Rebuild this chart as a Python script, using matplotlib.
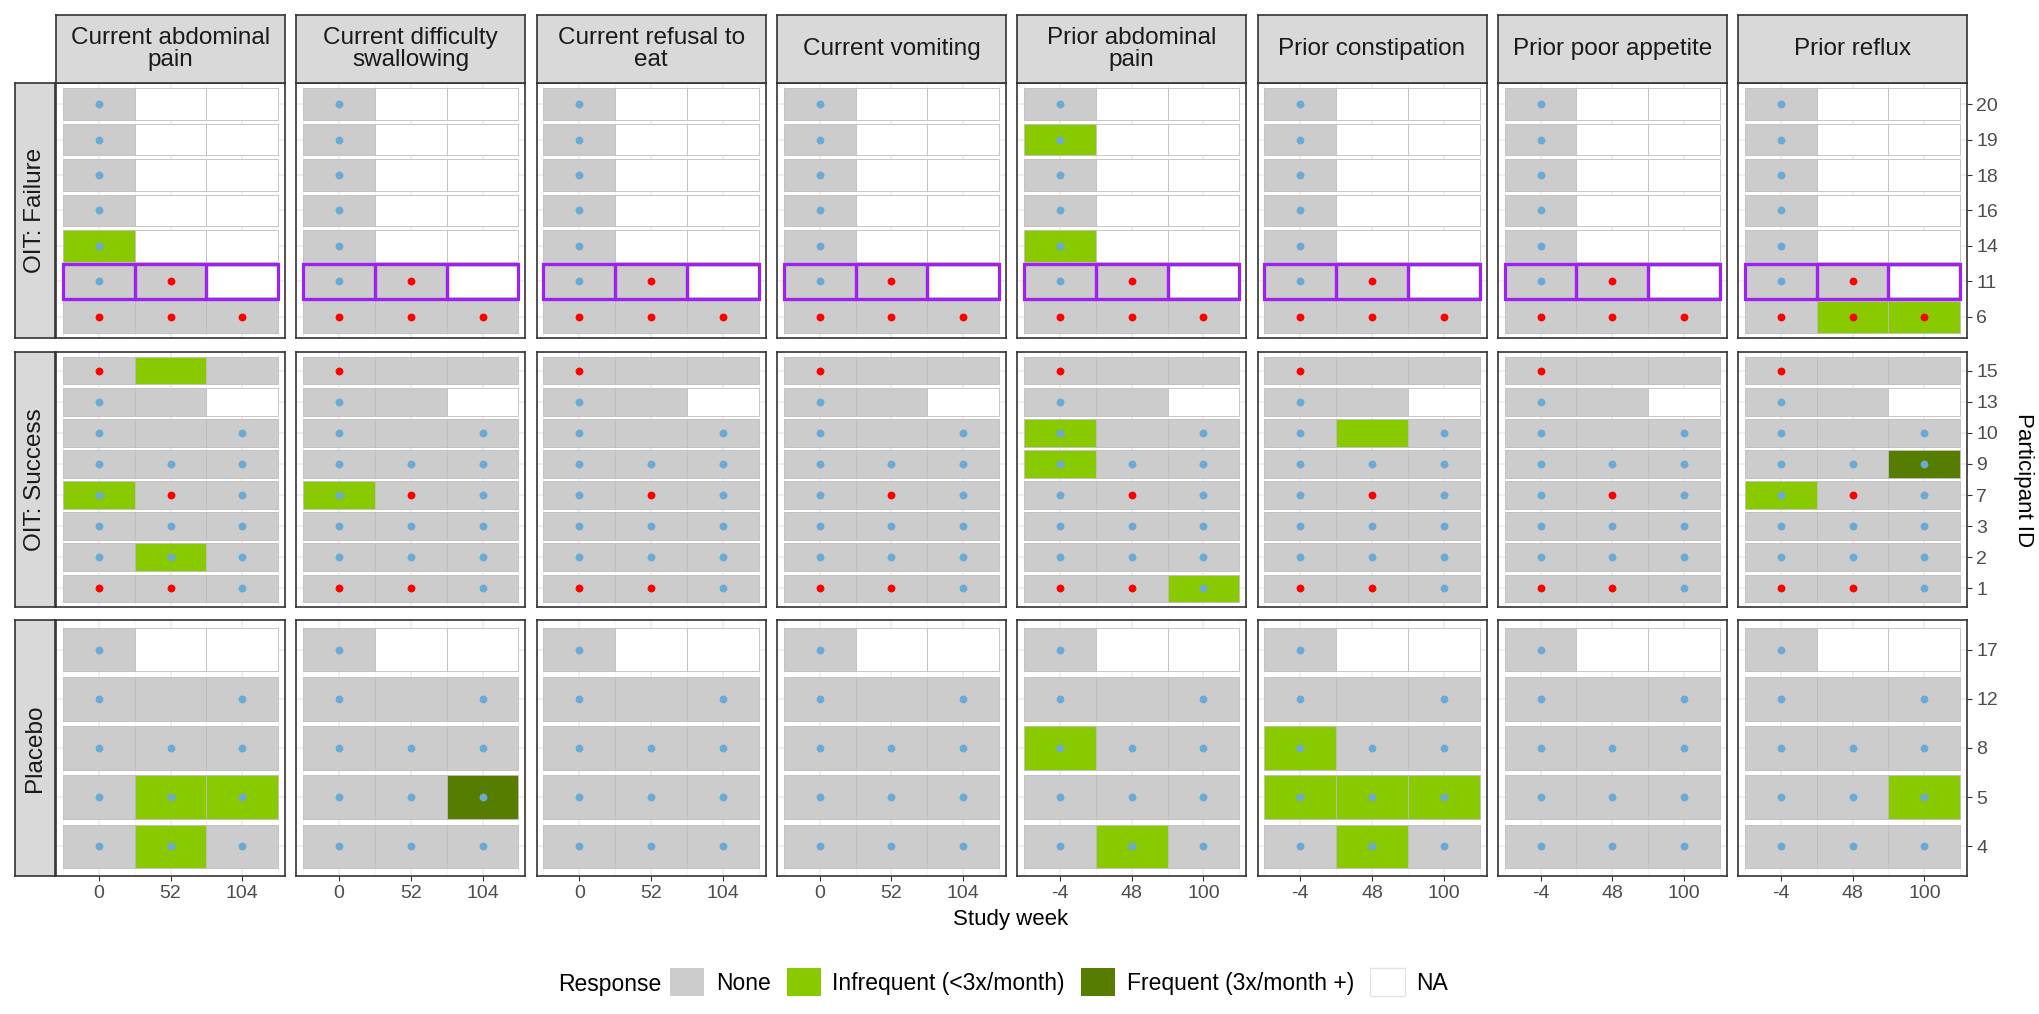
import matplotlib
matplotlib.use('Agg')
import matplotlib.pyplot as plt
from matplotlib.patches import Rectangle, Patch

plt.rcParams['font.family'] = ['Liberation Sans', 'DejaVu Sans']

# facetas
symptoms = ['Current abdominal\npain', 'Current difficulty\nswallowing', 'Current refusal to\neat',
            'Current vomiting', 'Prior abdominal\npain', 'Prior constipation',
            'Prior poor appetite', 'Prior reflux']
weeks_current = [0, 52, 104]
weeks_prior = [-4, 48, 100]
groups = ['OIT: Failure', 'OIT: Success', 'Placebo']
ids_failure = [20, 19, 18, 16, 14, 11, 6]
ids_success = [15, 13, 10, 9, 7, 3, 2, 1]
ids_placebo = [17, 12, 8, 5, 4]
highlight_id = 11

# pontos por participante (b = azul, r = vermelho, - = sem ponto)
dots_failure = ['b--', 'b--', 'b--', 'b--', 'b--', 'br-', 'rrr']
dots_success = ['r--', 'b--', 'b-b', 'bbb', 'brb', 'bbb', 'bbb', 'rrb']
dots_placebo = ['b--', 'b-b', 'bbb', 'bbb', 'bbb']

# respostas: N = None, I = Infrequent, F = Frequent, - = NA
# ordem: failure (7), success (8), placebo (5)
cur_abd_pain = ['N--', 'N--', 'N--', 'N--', 'I--', 'NN-', 'NNN',
                'NIN', 'NN-', 'NNN', 'NNN', 'INN', 'NNN', 'NIN', 'NNN',
                'N--', 'NNN', 'NNN', 'NII', 'NIN']
cur_swallow = ['N--', 'N--', 'N--', 'N--', 'N--', 'NN-', 'NNN',
               'NNN', 'NN-', 'NNN', 'NNN', 'INN', 'NNN', 'NNN', 'NNN',
               'N--', 'NNN', 'NNN', 'NNF', 'NNN']
cur_refusal = ['N--', 'N--', 'N--', 'N--', 'N--', 'NN-', 'NNN',
               'NNN', 'NN-', 'NNN', 'NNN', 'NNN', 'NNN', 'NNN', 'NNN',
               'N--', 'NNN', 'NNN', 'NNN', 'NNN']
cur_vomit = ['N--', 'N--', 'N--', 'N--', 'N--', 'NN-', 'NNN',
             'NNN', 'NN-', 'NNN', 'NNN', 'NNN', 'NNN', 'NNN', 'NNN',
             'N--', 'NNN', 'NNN', 'NNN', 'NNN']
pri_abd_pain = ['N--', 'I--', 'N--', 'N--', 'I--', 'NN-', 'NNN',
                'NNN', 'NN-', 'INN', 'INN', 'NNN', 'NNN', 'NNN', 'NNI',
                'N--', 'NNN', 'INN', 'NNN', 'NIN']
pri_constip = ['N--', 'N--', 'N--', 'N--', 'N--', 'NN-', 'NNN',
               'NNN', 'NN-', 'NIN', 'NNN', 'NNN', 'NNN', 'NNN', 'NNN',
               'N--', 'NNN', 'INN', 'III', 'NIN']
pri_appetite = ['N--', 'N--', 'N--', 'N--', 'N--', 'NN-', 'NNN',
                'NNN', 'NN-', 'NNN', 'NNN', 'NNN', 'NNN', 'NNN', 'NNN',
                'N--', 'NNN', 'NNN', 'NNN', 'NNN']
pri_reflux = ['N--', 'N--', 'N--', 'N--', 'N--', 'NN-', 'NII',
              'NNN', 'NN-', 'NNN', 'NNF', 'INN', 'NNN', 'NNN', 'NNN',
              'N--', 'NNN', 'NNN', 'NNI', 'NNN']
responses = [cur_abd_pain, cur_swallow, cur_refusal, cur_vomit,
             pri_abd_pain, pri_constip, pri_appetite, pri_reflux]

legend_labels = ['None', 'Infrequent (<3x/month)', 'Frequent (3x/month +)', 'NA']

# cores
fill = {'N': '#cccccc', 'I': '#88c900', 'F': '#567d00', '-': 'white'}
dot_col = {'b': '#6baad4', 'r': '#ff0000'}
purple = '#a020f0'
dark = '#333333'

group_ids = [ids_failure, ids_success, ids_placebo]
group_dots = [dots_failure, dots_success, dots_placebo]

W, H = 2040, 1014
fig = plt.figure(figsize=(W / 100, H / 100), dpi=100)

col_left0, col_pitch, col_w = 56, 240.3, 229
row_tops = [83, 352, 620]
row_h = [255, 255, 256]


def fig_rect(x, y, w, h):
    # pixels (origem no topo) -> fração da figura
    return [x / W, 1 - (y + h) / H, w / W, h / H]


for j, sym in enumerate(symptoms):
    weeks = weeks_current if j < 4 else weeks_prior
    x_left = col_left0 + j * col_pitch
    start = 0
    for g in range(3):
        ids = group_ids[g]
        n = len(ids)
        resp = responses[j][start:start + n]
        start += n
        dots = group_dots[g]

        ax = fig.add_axes(fig_rect(x_left, row_tops[g], col_w, row_h[g]))
        ax.set_xlim(weeks[0] - 31, weeks[-1] + 31)
        ax.set_ylim(0.4, n + 0.6)
        ax.set_axisbelow(True)

        # grade
        ax.set_xticks(weeks)
        ax.set_xticks([w - 26 for w in weeks] + [weeks[-1] + 26], minor=True)
        ax.set_yticks(range(1, n + 1))
        ax.grid(which='major', color='#ebebeb', lw=1.1)
        ax.grid(which='minor', axis='x', color='#f4f4f4', lw=0.6)

        for k in range(n):
            y = n - k
            for i, wk in enumerate(weeks):
                code = resp[k][i]
                ax.add_patch(Rectangle((wk - 26, y - 0.445), 52, 0.89,
                                       facecolor=fill[code], edgecolor='#bdbdbd',
                                       lw=0.6, zorder=1))
                if g == 0 and ids[k] == highlight_id:
                    ax.add_patch(Rectangle((wk - 26, y - 0.49), 52, 0.98,
                                           facecolor='none', edgecolor=purple,
                                           lw=2.3, zorder=2))
                d = dots[k][i]
                if d != '-':
                    ax.scatter(wk, y, s=32, color=dot_col[d], zorder=3, lw=0)

        for sp in ax.spines.values():
            sp.set_color(dark)
            sp.set_linewidth(1.2)

        ax.tick_params(which='minor', length=0)
        if g == 2:
            ax.set_xticklabels([str(w) for w in weeks])
            ax.tick_params(axis='x', length=3.6, width=0.8, color=dark,
                           labelsize=14, labelcolor='#4d4d4d', pad=3)
        else:
            ax.tick_params(axis='x', length=0, labelbottom=False)

        if j == len(symptoms) - 1:
            ax.yaxis.tick_right()
            ax.set_yticklabels([str(i) for i in ids][::-1])
            ax.tick_params(axis='y', length=3.6, width=0.8, color=dark,
                           labelsize=14, labelcolor='#4d4d4d', pad=3)
        else:
            ax.tick_params(axis='y', length=0, labelleft=False, labelright=False)

    # faixa do topo
    st = fig.add_axes(fig_rect(x_left, 15, col_w, 68))
    st.set_facecolor('#d9d9d9')
    st.set_xticks([])
    st.set_yticks([])
    for sp in st.spines.values():
        sp.set_color(dark)
        sp.set_linewidth(1.2)
    st.text(0.5, 0.5, sym, ha='center', va='center', fontsize=17.5,
            color='#1a1a1a', linespacing=1.05, transform=st.transAxes)

# faixas da esquerda
for g, name in enumerate(groups):
    st = fig.add_axes(fig_rect(15, row_tops[g], 40, row_h[g]))
    st.set_facecolor('#d9d9d9')
    st.set_xticks([])
    st.set_yticks([])
    for sp in st.spines.values():
        sp.set_color(dark)
        sp.set_linewidth(1.2)
    st.text(0.5, 0.5, name, ha='center', va='center', rotation=90,
            fontsize=17.5, color='#1a1a1a', transform=st.transAxes)

# titulos dos eixos
fig.text(1011 / W, 1 - 920 / H, 'Study week', ha='center', va='center', fontsize=16)
fig.text(2024 / W, 1 - 480 / H, 'Participant ID', ha='center', va='center',
         rotation=270, fontsize=16)

# legenda
handles = [Patch(facecolor=fill[c], edgecolor=('#e3e3e3' if c == '-' else 'none'))
           for c in ['N', 'I', 'F', '-']]
fig.legend(handles, legend_labels, loc='center left', bbox_to_anchor=(670 / W, 1 - 982 / H),
           ncol=4, frameon=False, fontsize=16.5, handlelength=1.5, handleheight=1.5,
           handletextpad=0.5, columnspacing=0.7, borderpad=0, borderaxespad=0)
fig.text(661 / W, 1 - 984 / H, 'Response', ha='right', va='center', fontsize=16.5)

fig.savefig('out.png', dpi=100)
